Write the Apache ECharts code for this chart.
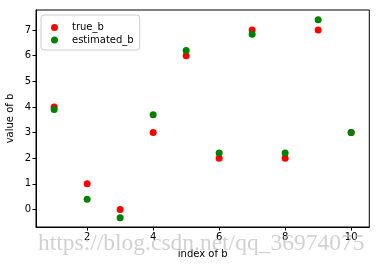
<!DOCTYPE html>
<html>
<head>
<meta charset="utf-8">
<script src="https://cdn.jsdelivr.net/npm/echarts@6/dist/echarts.min.js"></script>
<style>
  html, body { margin: 0; padding: 0; background: #fff; }
  #chart { width: 380px; height: 266px; }
</style>
</head>
<body>
<div id="chart"></div>
<script>
  const index = [1, 2, 3, 4, 5, 6, 7, 8, 9, 10]
  const trueB = [4, 1, 0, 3, 6, 2, 7, 2, 7, 3]
  const estimatedB = [3.9, 0.4, -0.32, 3.7, 6.2, 2.2, 6.84, 2.2, 7.4, 3.0]
  const xTicks = [2, 4, 6, 8, 10]
  const yTicks = [0, 1, 2, 3, 4, 5, 6, 7]

  const chart = echarts.init(document.getElementById('chart'))
  const font = 'DejaVu Sans'

  const option = {
    animation: false,
    backgroundColor: '#fff',
    grid: {
      left: 36, right: 10.7, top: 10, bottom: 39,
      outerBoundsMode: 'none',
      containLabel: false,
      show: true, borderColor: '#000', borderWidth: 1
    },
    legend: {
      orient: 'vertical',
      left: 41, top: 15,
      padding: [7.5, 6, 5, 10],
      itemGap: 2.5,
      itemWidth: 7, itemHeight: 7,
      icon: 'circle',
      backgroundColor: '#fff',
      borderColor: '#ccc', borderWidth: 1, borderRadius: 3,
      textStyle: { fontFamily: font, fontSize: 10, color: '#000', padding: [0, 0, 0, 9] },
      data: ['true_b', 'estimated_b']
    },
    xAxis: {
      type: 'value',
      min: 0.45, max: 10.55,
      name: 'index of b',
      nameLocation: 'middle',
      nameGap: 22,
      nameMoveOverlap: false,
      nameTextStyle: { fontFamily: font, fontSize: 10, color: '#000' },
      axisLine: { show: true, onZero: false, lineStyle: { color: '#000' } },
      axisTick: { show: true, length: 3.5, customValues: xTicks, lineStyle: { color: '#000' } },
      axisLabel: { customValues: xTicks, fontFamily: font, fontSize: 10, color: '#000', margin: 5 },
      splitLine: { show: false }
    },
    yAxis: {
      type: 'value',
      min: -0.685, max: 7.785,
      name: 'value of b',
      nameLocation: 'middle',
      nameGap: 21,
      nameMoveOverlap: false,
      nameTextStyle: { fontFamily: font, fontSize: 10, color: '#000' },
      axisLine: { show: true, onZero: false, lineStyle: { color: '#000' } },
      axisTick: { show: true, length: 3.5, customValues: yTicks, lineStyle: { color: '#000' } },
      axisLabel: { customValues: yTicks, fontFamily: font, fontSize: 10, color: '#000', margin: 5 },
      splitLine: { show: false }
    },
    series: [
      {
        name: 'true_b', type: 'scatter', symbolSize: 7,
        itemStyle: { color: '#ff0000', opacity: 1 },
        data: index.map((x, i) => [x, trueB[i]])
      },
      {
        name: 'estimated_b', type: 'scatter', symbolSize: 7,
        itemStyle: { color: '#008000', opacity: 1 },
        data: index.map((x, i) => [x, estimatedB[i]])
      }
    ],
    graphic: [{
      type: 'text',
      left: 38, top: 232,
      z: 100,
      style: {
        text: 'https://blog.csdn.net/qq_36974075',
        fontFamily: 'Liberation Serif',
        fontSize: 23.5,
        fill: 'rgba(190,190,190,0.7)'
      }
    }]
  }
  chart.setOption(option)
</script>
</body>
</html>
